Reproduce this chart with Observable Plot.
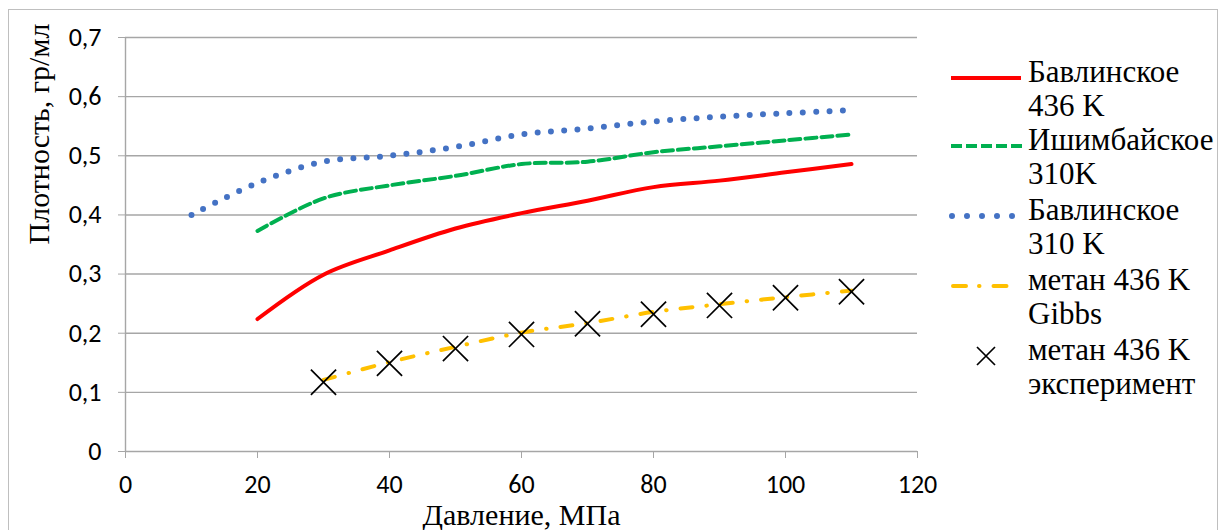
<!DOCTYPE html>
<html><head><meta charset="utf-8">
<script src="https://cdn.jsdelivr.net/npm/d3@7"></script>
<script src="https://cdn.jsdelivr.net/npm/@observablehq/plot@0.6"></script>
<style>
body{margin:0;background:#fff}
#wrap{position:relative;width:1226px;height:530px;overflow:hidden;background:#fff}
#frame{position:absolute;left:8px;top:9px;width:1210px;height:560px;border:1.5px solid #bfbfbf;box-sizing:border-box;pointer-events:none}
#legend{position:absolute;left:0;top:0;width:1226px;height:530px;font-family:"Liberation Serif","Times New Roman",serif;font-size:31px;color:#000;pointer-events:none}
.lt{position:absolute;left:1028px;line-height:34.7px;white-space:nowrap}
.ls{position:absolute;left:945px;width:82px;height:22px}
</style>
</head><body>
<div id="wrap"><div id="frame"></div><div id="chart"></div><div id="legend"></div></div>
<script>
// ---- data ----
const xTicks = [0, 20, 40, 60, 80, 100, 120];
const yTicks = [0, 0.1, 0.2, 0.3, 0.4, 0.5, 0.6, 0.7];

const bavl436X = [20, 30, 40, 50, 60, 70, 80, 90, 100, 110];
const bavl436Y = [0.224, 0.299, 0.340, 0.377, 0.403, 0.424, 0.447, 0.458, 0.472, 0.486];

const ishim310X = [20, 30, 40, 50, 60, 70, 80, 90, 100, 110];
const ishim310Y = [0.373, 0.428, 0.450, 0.466, 0.486, 0.490, 0.506, 0.516, 0.526, 0.536];

const bavl310X = [10, 20, 30, 40, 50, 60, 70, 80, 90, 100, 110];
const bavl310Y = [0.400, 0.454, 0.490, 0.500, 0.515, 0.536, 0.546, 0.558, 0.566, 0.572, 0.577];

const methGibbsX = [30, 40, 50, 60, 70, 80, 90, 100, 110];
const methGibbsY = [0.121, 0.151, 0.177, 0.201, 0.217, 0.236, 0.249, 0.261, 0.272];

const methExpX = [30, 40, 50, 60, 70, 80, 90, 100, 110];
const methExpY = [0.117, 0.149, 0.174, 0.198, 0.216, 0.232, 0.247, 0.260, 0.270];

const seriesNames = ["Бавлинское 436 K", "Ишимбайское 310K", "Бавлинское 310 K", "метан 436 K Gibbs", "метан 436 K эксперимент"];
const xLabel = "Давление, МПа";
const yLabel = "Плотность, гр/мл";

// ---- tables ----
const zip = (xs, ys) => xs.map((x, i) => ({x, y: ys[i]}));
const red = zip(bavl436X, bavl436Y);
const green = zip(ishim310X, ishim310Y);
const blue = zip(bavl310X, bavl310Y);
const yellow = zip(methGibbsX, methGibbsY);
const exp = zip(methExpX, methExpY);

const fmt = d => d === 0 ? "0" : d.toFixed(1).replace(".", ",");
const grid = "#a6a6a6";
const serif = "'Liberation Serif', 'Times New Roman', serif";

const chart = Plot.plot({
  width: 1226, height: 530,
  marginLeft: 125, marginRight: 309, marginTop: 37, marginBottom: 79,
  style: {fontFamily: "Carlito, Lato, sans-serif", fontSize: "26px", color: "#000", background: "transparent", overflow: "visible"},
  x: {domain: [0, 120]},
  y: {domain: [0, 0.7]},
  marks: [
    Plot.gridY(yTicks, {stroke: grid, strokeOpacity: 1, strokeWidth: 1.4}),
    Plot.ruleX([0], {stroke: grid, strokeWidth: 1.4}),
    Plot.axisY({ticks: yTicks, tickFormat: fmt, tickSize: 7, tickPadding: 17, stroke: grid, fill: "#000", label: null}),
    Plot.axisX({ticks: xTicks, tickSize: 7, tickPadding: 16, stroke: grid, fill: "#000", label: null}),
    Plot.line(red, {x: "x", y: "y", stroke: "#ff0000", strokeWidth: 4, curve: "catmull-rom"}),
    Plot.line(green, {x: "x", y: "y", stroke: "#00b050", strokeWidth: 4, strokeDasharray: "11 5", curve: "catmull-rom"}),
    Plot.line(blue, {x: "x", y: "y", stroke: "#4472c4", strokeWidth: 6, strokeDasharray: "0 13.3", strokeLinecap: "round", curve: "catmull-rom"}),
    Plot.line(yellow, {x: "x", y: "y", stroke: "#ffc000", strokeWidth: 4, strokeDasharray: "12 14 0.5 14", strokeLinecap: "round", curve: "catmull-rom"}),
    Plot.dot(exp, {x: "x", y: "y", symbol: "times", r: 11.5, stroke: "#000", strokeWidth: 1.7}),
    Plot.text([yLabel], {frameAnchor: "left", dx: -86, rotate: -90, fontFamily: serif, fontSize: 30, fill: "#000"}),
    Plot.text([xLabel], {frameAnchor: "bottom", dy: 64, lineAnchor: "middle", fontFamily: serif, fontSize: 30, fill: "#000"})
  ]
});
document.getElementById("chart").appendChild(chart);

// ---- legend ----
const legend = document.getElementById("legend");
const rowsY = [72, 140, 210, 280, 350];
const samples = [
  `<line x1="6" x2="76" y1="11" y2="11" stroke="#ff0000" stroke-width="4"/>`,
  `<line x1="6" x2="78" y1="11" y2="11" stroke="#00b050" stroke-width="4" stroke-dasharray="11 4"/>`,
  `<line x1="7" x2="72" y1="11" y2="11" stroke="#4472c4" stroke-width="6" stroke-dasharray="0 15" stroke-linecap="round"/>`,
  `<line x1="8" x2="68" y1="11" y2="11" stroke="#ffc000" stroke-width="4" stroke-dasharray="13 13 0.5 14" stroke-linecap="round"/>`,
  `<path d="M32,2L50,20M50,2L32,20" stroke="#000" stroke-width="1.7" fill="none"/>`
];
const labelLines = [["Бавлинское", "436 K"], ["Ишимбайское", "310K"], ["Бавлинское", "310 K"], ["метан 436 K", "Gibbs"], ["метан 436 K", "эксперимент"]];
seriesNames.forEach((name, i) => {
  const y = rowsY[i];
  const s = document.createElement("div");
  s.className = "ls"; s.style.top = (y - 11) + "px";
  s.innerHTML = `<svg width="82" height="22">${samples[i]}</svg>`;
  legend.appendChild(s);
  const t = document.createElement("div");
  t.className = "lt"; t.style.top = (y - 17.35) + "px";
  t.innerHTML = labelLines[i].join("<br>");
  t.title = name;
  legend.appendChild(t);
});
</script>
</body></html>
